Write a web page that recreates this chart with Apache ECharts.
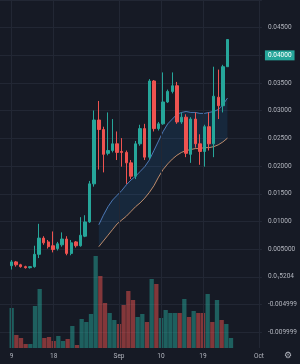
<!DOCTYPE html>
<html>
<head>
<meta charset="utf-8">
<script src="https://cdn.jsdelivr.net/npm/echarts@6/dist/echarts.min.js"></script>
<style>
html, body { margin: 0; background: #161a25; }
#chart { width: 300px; height: 364px; }
</style>
</head>
<body>
<div id="chart"></div>
<script>
// daily candles, 9 Aug -> 25 Sep
var opens  = [0.00200,0.00269,0.00217,0.00183,0.00165,0.00183,0.00406,0.00699,0.00630,0.00561,0.00510,0.00578,0.00682,0.00423,0.00630,0.00561,0.00733,0.00991,0.01679,0.02832,0.02660,0.02230,0.02281,0.02402,0.02264,0.02247,0.02058,0.01817,0.02402,0.02677,0.02161,0.03537,0.02677,0.02763,0.03158,0.03348,0.03451,0.02797,0.02883,0.02212,0.02849,0.02402,0.02264,0.02711,0.02402,0.03244,0.03090,0.03795];
var closes = [0.00269,0.00217,0.00183,0.00165,0.00183,0.00406,0.00699,0.00613,0.00544,0.00492,0.00596,0.00682,0.00423,0.00613,0.00561,0.00750,0.00991,0.01679,0.02832,0.02660,0.02212,0.02281,0.02402,0.02247,0.02247,0.02058,0.01817,0.02402,0.02677,0.02161,0.03537,0.02677,0.02763,0.03158,0.03348,0.03451,0.02797,0.02883,0.02230,0.02849,0.02402,0.02264,0.02711,0.02402,0.03262,0.03090,0.03795,0.04286];
var lows   = [0.00131,0.00183,0.00165,0.00148,0.00148,0.00165,0.00338,0.00578,0.00510,0.00441,0.00475,0.00544,0.00389,0.00389,0.00527,0.00544,0.00716,0.00974,0.01628,0.01937,0.01886,0.02195,0.02247,0.02109,0.01989,0.01679,0.01765,0.01765,0.02367,0.02109,0.02126,0.02625,0.02642,0.02746,0.03141,0.03313,0.02763,0.02763,0.02161,0.02058,0.02333,0.02023,0.01989,0.02281,0.02161,0.02849,0.02969,0.03795];
var highs  = [0.00303,0.00286,0.00234,0.00200,0.00190,0.00561,0.00957,0.00733,0.00665,0.00819,0.00630,0.00802,0.00733,0.00665,0.00647,0.01077,0.01112,0.01731,0.03004,0.03176,0.02711,0.02969,0.02849,0.02625,0.02505,0.02281,0.02109,0.02453,0.02746,0.02763,0.03571,0.03554,0.02797,0.03692,0.03382,0.03692,0.03520,0.02969,0.02935,0.02883,0.02969,0.02574,0.02746,0.02969,0.03795,0.03743,0.03829,0.04286];
var volumes = [40,13,10,4,4,42,59,10,11,7,12,7,9,22,3,29,26,34,92,72,45,35,28,24,43,57,48,31,34,26,69,64,30,38,35,35,35,49,31,37,35,35,54,26,48,28,24,10];

// moving average band (starts on 28 Aug)
var fastLine = [null,null,null,null,null,null,null,null,null,null,null,null,null,null,null,null,null,null,null,
  0.00940,0.01112,0.01266,0.01387,0.01473,0.01559,0.01662,0.01748,0.01817,0.01903,0.01989,0.02109,0.02281,0.02453,0.02625,0.02763,0.02849,0.02935,0.02969,0.02986,0.02969,0.02969,0.02952,0.02952,0.02969,0.02986,0.03021,0.03107,0.03229];
var slowLine = [null,null,null,null,null,null,null,null,null,null,null,null,null,null,null,null,null,null,null,
  0.00544,0.00647,0.00750,0.00854,0.00957,0.01026,0.01094,0.01180,0.01266,0.01335,0.01421,0.01524,0.01645,0.01800,0.01937,0.02040,0.02126,0.02195,0.02247,0.02281,0.02298,0.02316,0.02316,0.02333,0.02333,0.02350,0.02384,0.02436,0.02505];

var firstDay = 2;   // data starts two slots after the axis start
var yTickLabels = { '9': '0.04500', '8': '0.04000', '7': '0.03500', '6': '0.03000', '5': '0.02500',
  '4': '0.02000', '3': '0.01500', '2': '0.01000', '1': '0.005000', '0': '0.0\u20815204',
  '-1': '-0.004999', '-2': '-0.009999' };
var xLabelDates = ['2024-08-09', '2024-08-18', '2024-09-01', '2024-09-10', '2024-09-19', '2024-10-01'];
var xLabelTexts = ['9', '18', 'Sep', '10', '19', 'Oct'];

var categories = [];
for (var i = 0; i < 57; i++) {
  categories.push(new Date(Date.UTC(2024, 7, 7 + i)).toISOString().slice(0, 10));
}

var up = '#26a69a', down = '#ef5350';
var gridColor = '#222734';
var textColor = '#b2b5be';

function pad(arr) {
  var out = [];
  for (var i = 0; i < firstDay; i++) out.push('-');
  arr.forEach(function (v) { out.push(v == null ? '-' : v); });
  return out;
}

var candleData = pad(opens.map(function (o, i) { return [o, closes[i], lows[i], highs[i]]; }));
var volData = pad(volumes.map(function (v, i) {
  return { value: v, itemStyle: { color: closes[i] >= opens[i] ? 'rgba(38,166,154,0.5)' : 'rgba(239,83,80,0.5)' } };
}));
var bandDiff = fastLine.map(function (v, i) { return v == null ? null : +(v - slowLine[i]).toFixed(6); });

var splitColors = ['rgba(0,0,0,0)'];
for (var i = 0; i < 13; i++) splitColors.push(gridColor);

var myChart = echarts.init(document.getElementById('chart'));

option = {
  backgroundColor: '#161a25',
  animation: false,
  textStyle: { fontFamily: 'Roboto, sans-serif' },
  grid: [
    { left: 0, right: 34, top: -18.07, height: 377.9 },
    { left: 0, right: 34, top: 0, height: 348 }
  ],
  xAxis: [
    { type: 'category', gridIndex: 0, data: categories, show: false },
    {
      type: 'category', gridIndex: 1, data: categories,
      axisLine: { show: false }, axisTick: { show: false }, splitLine: { show: false },
      axisLabel: {
        color: textColor, fontSize: 6.5, margin: 5,
        interval: function (index, value) { return xLabelDates.indexOf(value) >= 0; },
        formatter: function (value) { return xLabelTexts[xLabelDates.indexOf(value)] || ''; }
      }
    }
  ],
  yAxis: [
    {
      type: 'value', gridIndex: 0, position: 'right',
      min: -0.015, max: 0.05, interval: 0.005,
      axisLine: { show: false }, axisTick: { show: false },
      splitLine: { lineStyle: { color: splitColors, width: 1 } },
      axisLabel: {
        color: textColor, fontSize: 6.5, margin: 6,
        formatter: function (value) {
          var k = String(Math.round(value / 0.005));
          return yTickLabels[k] || '';
        }
      }
    },
    { type: 'value', gridIndex: 1, min: 0, max: 348, show: false }
  ],
  series: [
    {
      name: 'Volume', type: 'bar', xAxisIndex: 1, yAxisIndex: 1,
      data: volData, barCategoryGap: '8%', z: 1,
      markLine: {
        silent: true, symbol: ['none', 'none'], label: { show: false },
        lineStyle: { color: gridColor, width: 1, type: 'solid' },
        data: xLabelDates.map(function (d) { return { xAxis: d }; })
      }
    },
    {
      name: 'bandBase', type: 'line', stack: 'band', data: pad(slowLine),
      symbol: 'none', lineStyle: { opacity: 0 }, z: 2
    },
    {
      name: 'band', type: 'line', stack: 'band', data: pad(bandDiff),
      symbol: 'none', lineStyle: { opacity: 0 },
      areaStyle: { color: 'rgba(33,150,243,0.16)' }, z: 2
    },
    {
      name: 'fast', type: 'line', data: pad(fastLine), symbol: 'none',
      lineStyle: { color: '#5b8fd8', width: 0.8 }, z: 3
    },
    {
      name: 'slow', type: 'line', data: pad(slowLine), symbol: 'none',
      lineStyle: { color: '#e9a77a', width: 0.8 }, z: 3
    },
    {
      name: 'Price', type: 'candlestick', data: candleData, barWidth: '64%', z: 5,
      itemStyle: { color: up, color0: down, borderColor: up, borderColor0: down, borderWidth: 1 },
      markLine: {
        silent: true, symbol: ['none', 'none'],
        lineStyle: { color: 'rgba(0,0,0,0)', width: 1 },
        label: {
          show: true, position: 'end', distance: 3, color: '#ffffff', fontSize: 6.5,
          backgroundColor: up, padding: [1.5, 3],
          formatter: function (p) { return p.value.toFixed(5); }
        },
        data: [{ yAxis: closes[closes.length - 1] }]
      }
    }
  ],
  graphic: [
    { type: 'text', right: 8, bottom: 4, style: { text: '\u2699', fill: textColor, fontSize: 9 } }
  ]
};
myChart.setOption(option);
</script>
</body>
</html>
